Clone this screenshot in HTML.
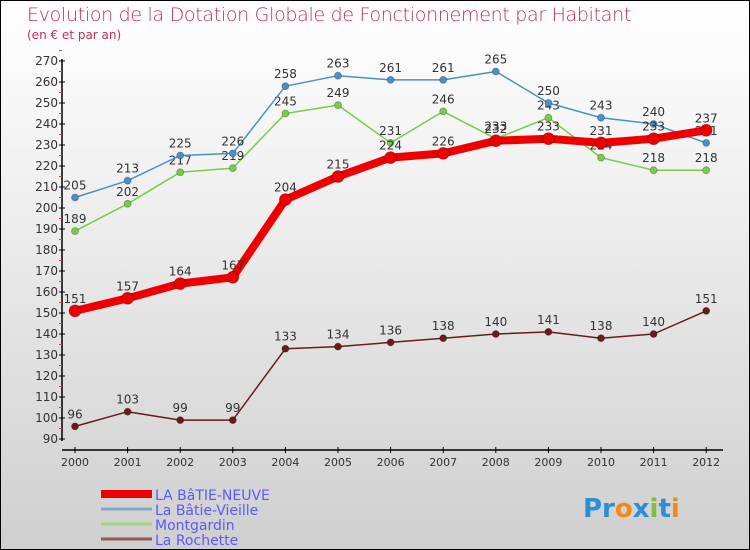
<!DOCTYPE html>
<html><head><meta charset="utf-8"><style>
body{margin:0}
#c{width:748px;height:548px;border:1px solid #000;background:linear-gradient(#fff 0%,#f2f2f2 30%,#cfcfcf 100%);position:relative;font-family:"DejaVu Sans","Liberation Sans",sans-serif;overflow:hidden}
.t{position:absolute;left:26px;top:3px;color:#c0305a;font-size:19px;font-weight:200;letter-spacing:-0.3px}
.s{position:absolute;left:26px;top:27px;color:#c0305a;font-size:12px}
</style></head><body>
<div id="c">
<div class="t">Evolution de la Dotation Globale de Fonctionnement par Habitant</div>
<div class="s">(en € et par an)</div>
<svg id="svg" width="748" height="548" style="position:absolute;left:0;top:0"></svg>
</div>
<script>
const years=[2000,2001,2002,2003,2004,2005,2006,2007,2008,2009,2010,2011,2012];
const neuve=[151,157,164,167,204,215,224,226,232,233,231,233,237];
const vieille=[205,213,225,226,258,263,261,261,265,250,243,240,231];
const montgardin=[189,202,217,219,245,249,231,246,233,243,224,218,218];
const rochette=[96,103,99,99,133,134,136,138,140,141,138,140,151];
const yTicks=[90,100,110,120,130,140,150,160,170,180,190,200,210,220,230,240,250,260,270];
const NS='http://www.w3.org/2000/svg';
const svg=document.getElementById('svg');
const X=i=>74+i*52.6;
const Y=v=>438-(v-90)*(378/180);
function mk(t,a,p){const e=document.createElementNS(NS,t);for(const k in a)e.setAttribute(k,a[k]);(p||svg).appendChild(e);return e;}
// axes
let ya=mk('line',{x1:61,y1:58,x2:61,y2:440,stroke:'#000','stroke-width':1.5});


let xa=mk('line',{x1:61,y1:449,x2:722,y2:449,stroke:'#000','stroke-width':1.5});


yTicks.forEach(v=>{
  mk('line',{x1:58,y1:Y(v),x2:64,y2:Y(v),stroke:'#000'});
  mk('line',{x1:58,y1:Y(v+5),x2:61,y2:Y(v+5),stroke:'#e33'});
  const t=mk('text',{x:57,y:Y(v)+4,'text-anchor':'end','font-size':12,fill:'#333'});
  t.textContent=v;
  
  
});
years.forEach((yr,i)=>{
  mk('line',{x1:X(i),y1:446,x2:X(i),y2:452,stroke:'#000'});
  const t=mk('text',{x:X(i),y:465,'text-anchor':'middle','font-size':11,fill:'#333'});
  t.textContent=yr;
  
  
});
function series(data,color,w,r,name){
  const g=mk('g',{});
  
  
  mk('polyline',{points:data.map((v,i)=>X(i)+','+Y(v)).join(' '),fill:'none',stroke:color,'stroke-width':w,'stroke-linejoin':'round'},g);
  data.forEach((v,i)=>{
    const c=mk('circle',{cx:X(i),cy:Y(v),r:r,fill:color,stroke:'rgba(0,0,0,0.3)','stroke-width':0.8},g);
    
    
    const t=mk('text',{x:X(i),y:Y(v)-8,'text-anchor':'middle','font-size':12,fill:'#333'},g);
    t.textContent=v;
    
    
  });
}
series(rochette,'#6b1a1f',1.5,3.5,'la-rochette-series');
series(montgardin,'#7acb4a',1.5,3.5,'montgardin-series');
series(vieille,'#4a8fc8',1.5,3.5,'la-batie-vieille-series');
series(neuve,'#ee0000',8,6,'la-batie-neuve-series');
// legend
const leg=[['LA BâTIE-NEUVE','#ee0000',8],['La Bâtie-Vieille','#7fa9cc',3],['Montgardin','#a2d67f',3],['La Rochette','#8f5a5a',3]];
leg.forEach((l,i)=>{
  const y=493+i*15;
  const g=mk('g',{});
  
  
  mk('line',{x1:100,y1:y,x2:151,y2:y,stroke:l[1],'stroke-width':l[2]},g);
  const t=mk('text',{x:154,y:y+6,'font-size':14,fill:'#5a5aff'},g);
  t.textContent=l[0];
});
const p=mk('text',{x:582,y:516,'font-size':26,'font-weight':'bold',fill:'#f08a1c'});


p.innerHTML='<tspan fill="#2a8fd8">Pr</tspan><tspan fill="#f08a1c">o</tspan><tspan fill="#2a8fd8">x</tspan><tspan fill="#7bc043">i</tspan><tspan fill="#2a8fd8">t</tspan><tspan fill="#f08a1c">i</tspan>';
</script>
</body></html>
